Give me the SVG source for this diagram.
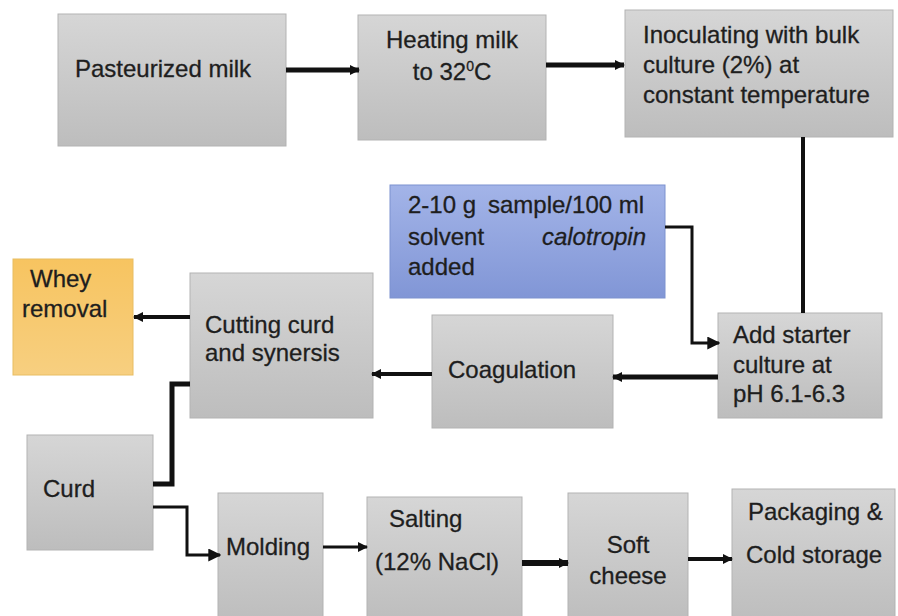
<svg xmlns="http://www.w3.org/2000/svg" width="898" height="616" viewBox="0 0 898 616">
<defs>
<linearGradient id="gray" x1="0" y1="0" x2="0" y2="1">
<stop offset="0" stop-color="#d6d6d6"/>
<stop offset="1" stop-color="#bdbdbd"/>
</linearGradient>
<linearGradient id="blue" x1="0" y1="0" x2="0" y2="1">
<stop offset="0" stop-color="#a3b4e8"/>
<stop offset="1" stop-color="#8196d6"/>
</linearGradient>
<linearGradient id="orange" x1="0" y1="0" x2="0" y2="1">
<stop offset="0" stop-color="#f7c460"/>
<stop offset="1" stop-color="#f7cf80"/>
</linearGradient>
<marker id="ah" viewBox="0 0 10 10" refX="9" refY="5" markerWidth="10" markerHeight="10" markerUnits="userSpaceOnUse" orient="auto">
<path d="M0,0 L10,5 L0,10 z" fill="#111"/>
</marker>
<marker id="ahL" viewBox="0 0 10 10" refX="9" refY="5" markerWidth="13" markerHeight="13" markerUnits="userSpaceOnUse" orient="auto">
<path d="M0,0 L10,5 L0,10 z" fill="#111"/>
</marker>
</defs>
<style>
.box{fill:url(#gray);stroke:#b3b3b3;stroke-width:1}
.bbox{fill:url(#blue);stroke:#7d92cf;stroke-width:1}
.obox{fill:url(#orange);stroke:#e8bd62;stroke-width:1}
text{font-family:"Liberation Sans",Arial,sans-serif;font-size:24px;fill:#1e1e1e;stroke:#1e1e1e;stroke-width:0.3}
.c{text-anchor:middle}
.con{fill:none;stroke:#111;stroke-linejoin:miter}
</style>
<rect width="898" height="616" fill="#ffffff"/>

<g id="pasteurized">
<rect class="box" x="58" y="14" width="228" height="132"/>
<text x="75" y="77">Pasteurized milk</text>
</g>
<g id="heating">
<rect class="box" x="358" y="15" width="188" height="125"/>
<text class="c" x="452" y="48">Heating milk</text>
<text class="c" x="452" y="80">to 32<tspan font-size="14" dy="-9">0</tspan><tspan dy="9">C</tspan></text>
</g>
<g id="inoculating">
<rect class="box" x="625" y="10" width="268" height="127"/>
<text x="643" y="43">Inoculating with bulk</text>
<text x="643" y="73">culture (2%) at</text>
<text x="643" y="103">constant temperature</text>
</g>
<g id="sample">
<rect class="bbox" x="390" y="185" width="275" height="113"/>
<text x="408" y="213">2-10 g</text>
<text x="488" y="213">sample/100 ml</text>
<text x="408" y="245">solvent</text>
<text x="646" y="245" text-anchor="end" font-style="italic">calotropin</text>
<text x="408" y="275">added</text>
</g>
<g id="whey">
<rect class="obox" x="13" y="259" width="120" height="116"/>
<text x="30" y="287">Whey</text>
<text x="22" y="317">removal</text>
</g>
<g id="cutting">
<rect class="box" x="190" y="273" width="183" height="145"/>
<text x="205" y="333">Cutting curd</text>
<text x="205" y="361">and synersis</text>
</g>
<g id="coagulation">
<rect class="box" x="432" y="315" width="181" height="113"/>
<text x="448" y="378">Coagulation</text>
</g>
<g id="addstarter">
<rect class="box" x="718" y="313" width="164" height="105"/>
<text x="733" y="343">Add starter</text>
<text x="733" y="373">culture at</text>
<text x="733" y="402">pH 6.1-6.3</text>
</g>
<g id="curd">
<rect class="box" x="27" y="435" width="126" height="115"/>
<text x="43" y="497">Curd</text>
</g>
<g id="molding">
<rect class="box" x="218" y="493" width="105" height="130"/>
<text x="226" y="555">Molding</text>
</g>
<g id="salting">
<rect class="box" x="367" y="497" width="155" height="126"/>
<text x="389" y="527">Salting</text>
<text x="375" y="570">(12% NaCl)</text>
</g>
<g id="softcheese">
<rect class="box" x="568" y="493" width="120" height="130"/>
<text class="c" x="628" y="553">Soft</text>
<text class="c" x="628" y="584">cheese</text>
</g>
<g id="packaging">
<rect class="box" x="732" y="489" width="163" height="134"/>
<text x="748" y="520">Packaging &amp;</text>
<text x="746" y="563">Cold storage</text>
</g>

<g id="connectors">
<line class="con" x1="286" y1="70" x2="359" y2="70" stroke-width="5" marker-end="url(#ah)"/>
<line class="con" x1="546" y1="65" x2="624" y2="65" stroke-width="5" marker-end="url(#ah)"/>
<line class="con" x1="803" y1="137" x2="803" y2="313" stroke-width="4"/>
<path class="con" d="M665,227 H692 V343 H719" stroke-width="3" marker-end="url(#ahL)"/>
<line class="con" x1="718" y1="377" x2="613" y2="377" stroke-width="5" marker-end="url(#ah)"/>
<line class="con" x1="432" y1="374" x2="372" y2="374" stroke-width="4" marker-end="url(#ah)"/>
<line class="con" x1="190" y1="317" x2="134" y2="317" stroke-width="4" marker-end="url(#ah)"/>
<path class="con" d="M190,384 H172 V484 H153" stroke-width="5"/>
<path class="con" d="M153,507 H187 V555 H220" stroke-width="3" marker-end="url(#ahL)"/>
<line class="con" x1="323" y1="547" x2="367" y2="547" stroke-width="3" marker-end="url(#ah)"/>
<line class="con" x1="522" y1="563" x2="568" y2="563" stroke-width="6" marker-end="url(#ah)"/>
<line class="con" x1="688" y1="559" x2="732" y2="559" stroke-width="4" marker-end="url(#ah)"/>
</g>
</svg>
